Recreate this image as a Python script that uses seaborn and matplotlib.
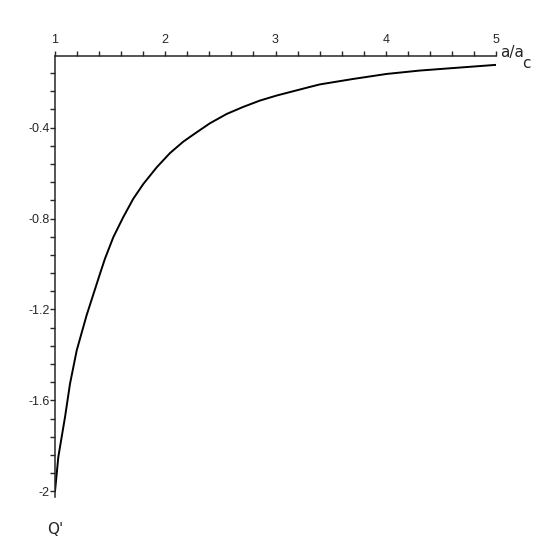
import numpy as np
import matplotlib
matplotlib.use("Agg")
import matplotlib.pyplot as plt
from matplotlib.ticker import MultipleLocator, FixedLocator
import seaborn as sns

# values (Q' against a/a_c)
ratio = [1.0, 1.03, 1.091, 1.136, 1.197, 1.287, 1.408, 1.453, 1.529, 1.619,
         1.710, 1.801, 1.922, 2.043, 2.163, 2.254, 2.405, 2.557, 2.707, 2.859,
         3.010, 3.161, 3.312, 3.402, 3.704, 4.007, 4.309, 4.611, 5.0]
q_prime = [-2.0, -1.849, -1.673, -1.527, -1.38, -1.225, -1.043, -0.977, -0.882, -0.794,
           -0.713, -0.648, -0.575, -0.512, -0.462, -0.431, -0.381, -0.340, -0.309, -0.281,
           -0.259, -0.240, -0.221, -0.210, -0.186, -0.164, -0.149, -0.138, -0.124]

x_ticks = [1, 2, 3, 4, 5]
x_labels = ["1", "2", "3", "4", "5"]
y_ticks = [-2.0, -1.6, -1.2, -0.8, -0.4]
y_labels = ["-2", "-1.6", "-1.2", "-0.8", "-0.4"]

sns.set_style("ticks")
plt.rcParams['font.family'] = ['Liberation Sans', 'DejaVu Sans']

fig = plt.figure(figsize=(5.54, 5.54), dpi=100)
ax = fig.add_axes([55 / 554, 1 - 497 / 554, 441 / 554, 441 / 554])

sns.lineplot(x=ratio, y=q_prime, color="black", linewidth=1.4, ax=ax,
             sort=False, estimator=None)

ax.set_xlim(1, 5)
ax.set_ylim(-2.025, -0.085)

# only the top and left axes, like the original
ax.spines['right'].set_visible(False)
ax.spines['bottom'].set_visible(False)
ax.spines['top'].set_linewidth(1.1)
ax.spines['left'].set_linewidth(1.1)

ax.xaxis.tick_top()
ax.set_xticks(x_ticks)
ax.set_xticklabels(x_labels)
ax.xaxis.set_minor_locator(MultipleLocator(0.2))
ax.set_yticks(y_ticks)
ax.set_yticklabels(y_labels)
ax.yaxis.set_minor_locator(FixedLocator(np.arange(-2.0, -0.1, 0.08)))

ax.tick_params(axis='x', which='both', direction='out', length=3.4, width=1,
               pad=4, labelsize=9, top=True, bottom=False)
ax.tick_params(axis='y', which='both', direction='out', length=3.4, width=1,
               pad=0.5, labelsize=9, left=True, right=False)

ax.set_xlabel("")
ax.set_ylabel("")

fig.text(500 / 554, 1 - 53 / 554, "a/a", fontsize=11, family='DejaVu Sans',
         ha='left', va='center')
fig.text(522 / 554, 1 - 64 / 554, "c", fontsize=11, family='DejaVu Sans',
         ha='left', va='center')
fig.text(47 / 554, 1 - 529 / 554, "Q'", fontsize=11, family='DejaVu Sans',
         ha='left', va='center')

fig.savefig("out.png", dpi=100, facecolor="white")
